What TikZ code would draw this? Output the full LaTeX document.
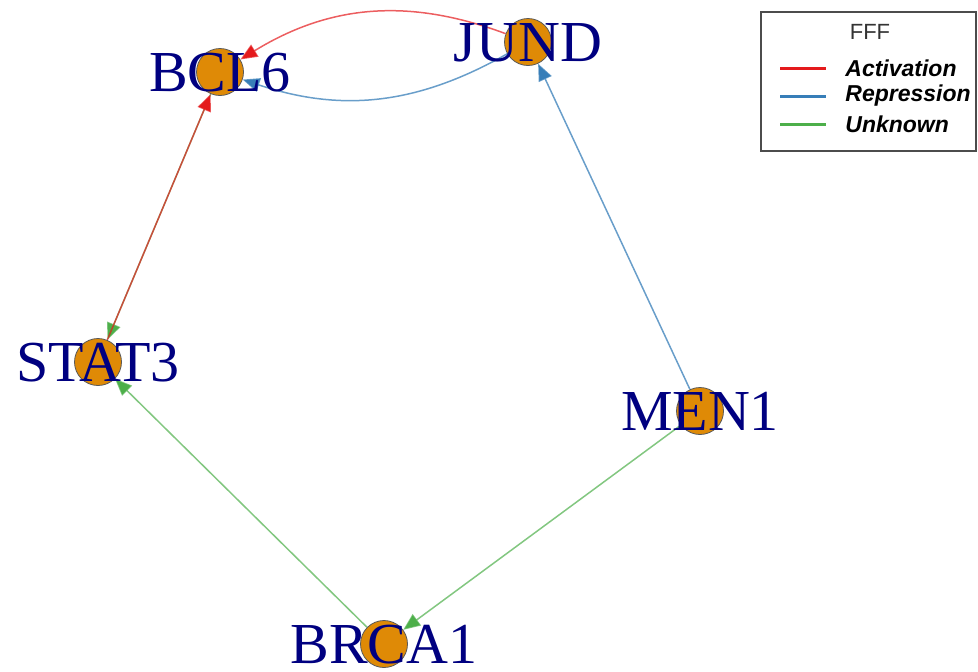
\documentclass[tikz,border=0pt]{standalone}
\usepackage{fontspec}
\setmainfont{Liberation Serif}
\setsansfont{Liberation Sans}
\usepackage{xcolor}
\usepackage{tikz}
\usetikzlibrary{arrows.meta,backgrounds}
\definecolor{actred}{HTML}{E41A1C}
\definecolor{repblue}{HTML}{377EB8}
\definecolor{unkgreen}{HTML}{4DAF4A}
\definecolor{genefill}{RGB}{223,138,6}
\definecolor{genetext}{RGB}{0,0,128}

\begin{document}
\begin{tikzpicture}[
  x=0.5pt, y=-0.5pt,
  gene/.style ={circle, draw=black!65, fill=genefill, line width=0.4pt, minimum size=23.5pt, inner sep=0pt},
  glab/.style ={font=\fontsize{29}{30}\selectfont, text=genetext, inner sep=0pt, text height=19pt, text depth=0pt},
  edge/.style ={line width=0.75pt, -{Triangle[length=8.5pt,width=7pt]}},
  act/.style  ={edge, color=actred, draw opacity=0.7},
  rep/.style  ={edge, color=repblue, draw opacity=0.75},
  unk/.style  ={edge, color=unkgreen, draw opacity=0.7},
  key/.style  ={line width=1.5pt},
  keylab/.style={font=\sffamily\bfseries\itshape\fontsize{11.5}{12}\selectfont, anchor=west, inner sep=0pt}
]
\useasboundingbox (0,0) rectangle (978,671);

% ---- genes ----
\node[gene] (bcl6)  at (220,72)  {};
\node[gene] (jund)  at (528,42)  {};
\node[gene] (stat3) at (98,362)  {};
\node[gene] (men1)  at (700,411) {};
\node[gene] (brca1) at (384,644) {};
\node[glab] (bcl6l)  at (bcl6)  {BCL6};
\node[glab] (jundl)  at (jund)  {JUND};
\node[glab] (stat3l) at (stat3) {STAT3};
\node[glab] (men1l)  at (men1)  {MEN1};
\node[glab] (brca1l) at (brca1) {BRCA1};

% ---- regulations ----
\begin{scope}[on background layer]
\draw[act] (jund) to[bend right=26] (bcl6);
\draw[rep] (jund) to[bend left=24] (bcl6);
\draw[unk] (bcl6) -- (stat3);
\draw[act] (stat3) -- (bcl6);
\draw[rep] (men1) -- (jund);
\draw[unk] (men1) -- (brca1);
\draw[unk] (brca1) -- (stat3);
\end{scope}

% ---- legend ----
\draw[black!70, line width=0.8pt] (761,12) rectangle (976,151);
\node[font=\sffamily\fontsize{11}{12}\selectfont, text=black!80] (legtitle) at (870,32) {FFF};
\draw[key, actred]   (780,68)  -- (826,68);
\draw[key, repblue]  (780,96)  -- (826,96);
\draw[key, unkgreen] (780,124) -- (826,124);
\node[keylab] (legact) at (845,68)  {Activation};
\node[keylab] (legrep) at (845,96)  {Repression};
\node[keylab] (legunk) at (845,124) {Unknown};
\end{tikzpicture}
\end{document}
